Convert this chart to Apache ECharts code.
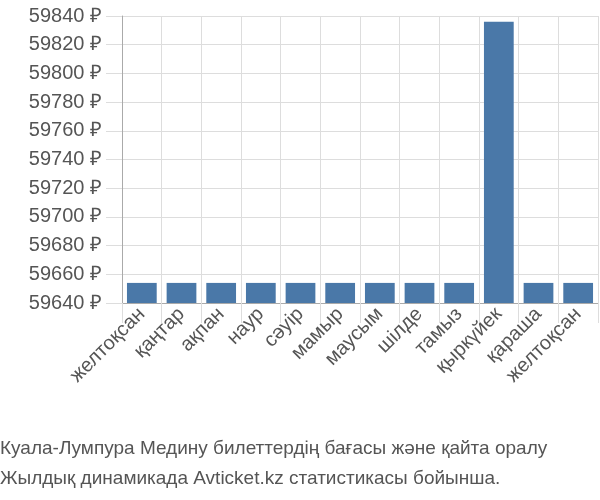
<!DOCTYPE html><html><head><meta charset="utf-8"><script src="https://cdn.jsdelivr.net/npm/echarts@6/dist/echarts.min.js"></script></head><body style="margin:0"><div id="c" style="width:600px;height:500px"></div><script>
const categories=["желтоқсан","қаңтар","ақпан","наур","сәуір","мамыр","маусым","шілде","тамыз","қыркүйек","қараша","желтоқсан"];
const values=[59654,59654,59654,59654,59654,59654,59654,59654,59654,59836,59654,59654];
const ch=echarts.init(document.getElementById('c'));
ch.setOption({animation:false,
graphic:[{type:'text',left:0,top:434,style:{text:'Куала-Лумпура Медину билеттердің бағасы және қайта оралу\nЖылдық динамикада Avticket.kz статистикасы бойынша.',fill:'#555',font:'19px "Liberation Sans", Arial',lineHeight:30}}],
grid:{left:122,right:2,top:16,bottom:197},
xAxis:{type:'category',data:categories,axisLine:{lineStyle:{color:'#aaa'}},axisTick:{show:true,length:20,lineStyle:{color:'#ddd'}},splitLine:{show:true,lineStyle:{color:'#ddd'}},axisLabel:{rotate:45,color:'#555',fontSize:20,fontFamily:'Liberation Sans',margin:8,interval:0}},
yAxis:{type:'value',min:59640,max:59840,interval:20,axisLine:{show:true,lineStyle:{color:'#aaa'}},axisTick:{show:true,length:16,lineStyle:{color:'#ddd'}},splitLine:{lineStyle:{color:'#ddd'}},axisLabel:{color:'#555',fontSize:20,fontFamily:'Liberation Sans',formatter:v=>v+' ₽',margin:20}},
series:[{type:'bar',data:values,barCategoryGap:'25%',itemStyle:{color:'#4a78a8'}}]});
</script></body></html>
